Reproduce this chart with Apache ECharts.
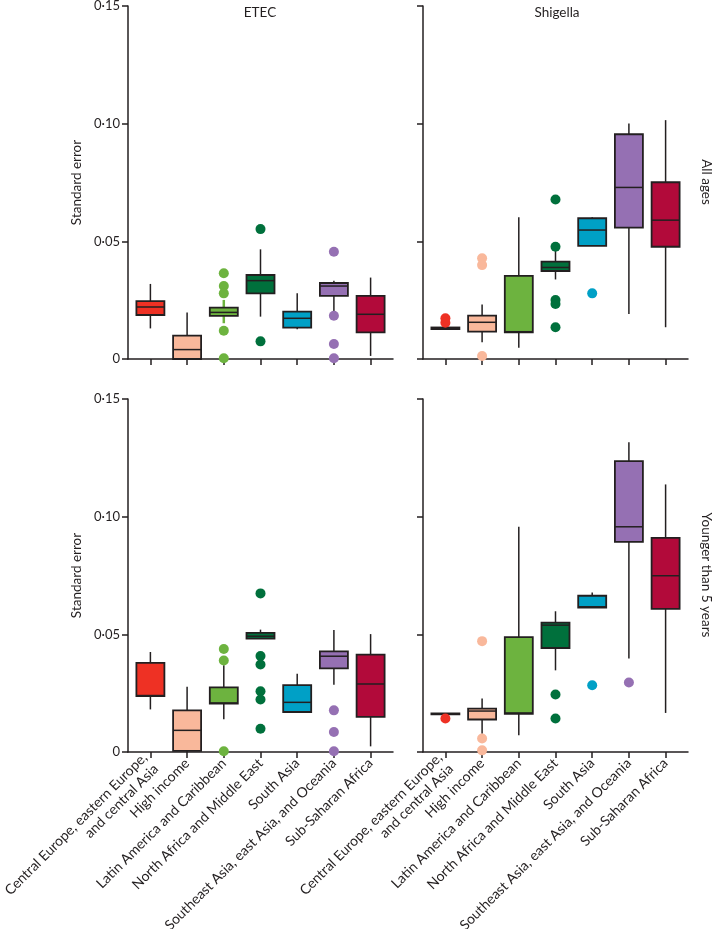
<!DOCTYPE html>
<html>
<head>
<meta charset="utf-8">
<script src="https://cdn.jsdelivr.net/npm/echarts@6/dist/echarts.min.js"></script>
<style>
html,body{margin:0;padding:0;background:#fff;}
#chart{width:715px;height:929px;}
</style>
</head>
<body>
<div id="chart"></div>
<script>
// ---- Data ----
const regions = [
  "Central Europe, eastern Europe,\nand central Asia",
  "High income",
  "Latin America and Caribbean",
  "North Africa and Middle East",
  "South Asia",
  "Southeast Asia, east Asia, and Oceania",
  "Sub-Saharan Africa"
];
const pathogens = ["ETEC", "Shigella"];
const ageGroups = ["All ages", "Younger than 5 years"];
const yTicks = [0, 0.05, 0.10, 0.15];

// [min, Q1, median, Q3, max]
const etecAll = [
  [0.0130, 0.0187, 0.0221, 0.0246, 0.0319],
  [0.0000, 0.0000, 0.0040, 0.0099, 0.0198],
  [0.0152, 0.0183, 0.0198, 0.0218, 0.0251],
  [0.0180, 0.0279, 0.0333, 0.0357, 0.0466],
  [0.0126, 0.0133, 0.0173, 0.0201, 0.0279],
  [0.0191, 0.0268, 0.0310, 0.0323, 0.0333],
  [0.0013, 0.0113, 0.0190, 0.0268, 0.0346]
];
const etecAllOut = [[2,0.0364],[2,0.0310],[2,0.0279],[2,0.0120],[2,0.0003],[3,0.0552],[3,0.0075],[5,0.0456],[5,0.0184],[5,0.0064],[5,0.0003]];

const shigAll = [
  [0.0127, 0.0127, 0.0130, 0.0134, 0.0134],
  [0.0071, 0.0116, 0.0156, 0.0184, 0.0232],
  [0.0048, 0.0113, 0.0116, 0.0353, 0.0602],
  [0.0338, 0.0374, 0.0389, 0.0414, 0.0463],
  [0.0481, 0.0481, 0.0548, 0.0598, 0.0602],
  [0.0191, 0.0558, 0.0729, 0.0955, 0.1001],
  [0.0135, 0.0477, 0.0590, 0.0751, 0.1015]
];
const shigAllOut = [[0,0.0173],[0,0.0154],[1,0.0428],[1,0.0399],[1,0.0013],[3,0.0678],[3,0.0477],[3,0.0251],[3,0.0234],[3,0.0135],[4,0.0279]];

const etecU5 = [
  [0.0181, 0.0238, 0.0240, 0.0379, 0.0425],
  [0.0000, 0.0005, 0.0092, 0.0177, 0.0277],
  [0.0139, 0.0206, 0.0208, 0.0275, 0.0369],
  [0.0482, 0.0482, 0.0492, 0.0506, 0.0520],
  [0.0167, 0.0170, 0.0211, 0.0284, 0.0333],
  [0.0286, 0.0355, 0.0407, 0.0428, 0.0518],
  [0.0024, 0.0149, 0.0289, 0.0414, 0.0501]
];
const etecU5Out = [[2,0.0438],[2,0.0389],[2,0.0003],[3,0.0674],[3,0.0408],[3,0.0372],[3,0.0258],[3,0.0223],[3,0.0099],[5,0.0177],[5,0.0085],[5,0.0003]];

const shigU5 = [
  [0.0160, 0.0160, 0.0162, 0.0164, 0.0164],
  [0.0078, 0.0138, 0.0174, 0.0184, 0.0227],
  [0.0071, 0.0162, 0.0166, 0.0488, 0.0957],
  [0.0347, 0.0442, 0.0539, 0.0550, 0.0598],
  [0.0614, 0.0614, 0.0617, 0.0664, 0.0678],
  [0.0397, 0.0893, 0.0957, 0.1236, 0.1316],
  [0.0166, 0.0608, 0.0749, 0.0910, 0.1137]
];
const shigU5Out = [[0,0.0142],[1,0.0471],[1,0.0057],[1,0.0007],[3,0.0244],[3,0.0142],[4,0.0284],[5,0.0295]];

// ---- Styles / layout ----
const colors = ['#ee3124', '#f9b89b', '#6db33f', '#00703c', '#00a0c6', '#9570b3', '#b20a3a'];
const ink = '#231f20';
const FONT = 'Lato';

const panels = [
  {box: etecAll, out: etecAllOut, axisX: 128, top: 6,   labels: false, yLabels: true,  colorWhisker: [2]},
  {box: shigAll, out: shigAllOut, axisX: 423, top: 6,   labels: false, yLabels: false, colorWhisker: []},
  {box: etecU5,  out: etecU5Out,  axisX: 128, top: 399, labels: true,  yLabels: true,  colorWhisker: []},
  {box: shigU5,  out: shigU5Out,  axisX: 423, top: 399, labels: true,  yLabels: false, colorWhisker: []}
];
const H = 353, FRAME_W = 265, BAND = 36.7, PAD = (FRAME_W - BAND * 7) / 2;

const grid = [], xAxis = [], yAxis = [], series = [];
const fmt = v => v === 0 ? '0' : v.toFixed(2).replace('.', '\u00b7');

panels.forEach((p, k) => {
  const gFrame = grid.length;
  grid.push({left: p.axisX, top: p.top, width: FRAME_W, height: H, containLabel: false, outerBoundsMode: 'none'});
  const gPlot = grid.length;
  grid.push({left: p.axisX + PAD, top: p.top, width: BAND * 7, height: H, containLabel: false, outerBoundsMode: 'none'});

  // frame axes
  xAxis.push({gridIndex: gFrame, type: 'value', min: 0, max: 1,
    axisLine: {show: true, onZero: false, lineStyle: {color: ink, width: 1.5}},
    axisTick: {show: false}, axisLabel: {show: false}, splitLine: {show: false}});
  yAxis.push({gridIndex: gFrame, type: 'value', min: yTicks[0], max: yTicks[yTicks.length - 1],
    interval: yTicks[1] - yTicks[0],
    axisLine: {show: true, lineStyle: {color: ink, width: 1.5}},
    axisTick: {show: true, length: 6, lineStyle: {color: ink, width: 1.5}},
    axisLabel: {show: p.yLabels, formatter: fmt, color: ink, fontFamily: FONT, fontSize: 13, margin: 8},
    splitLine: {show: false},
    name: p.yLabels ? 'Standard error' : '', nameLocation: 'middle', nameGap: 44,
    nameTextStyle: {color: ink, fontFamily: FONT, fontSize: 13.5}});

  // plot axes
  const xi = xAxis.length;
  xAxis.push({gridIndex: gPlot, type: 'category', data: regions, boundaryGap: true,
    axisLine: {show: false},
    axisTick: {show: true, alignWithLabel: true, length: 6, lineStyle: {color: ink, width: 1.5}},
    axisLabel: {show: p.labels, rotate: 45, interval: 0, color: ink, fontFamily: FONT, fontSize: 14,
      margin: 9, lineHeight: 16, align: 'right'},
    splitLine: {show: false}});
  const yi = yAxis.length;
  yAxis.push({gridIndex: gPlot, type: 'value', min: yTicks[0], max: yTicks[yTicks.length - 1],
    show: false, splitLine: {show: false}});

  const boxData = p.box.map((b, i) => [i].concat(b));
  series.push({
    type: 'custom', xAxisIndex: xi, yAxisIndex: yi, z: 2,
    encode: {x: 0, y: [1, 2, 3, 4, 5]},
    data: boxData,
    renderItem: function (params, api) {
      const i = api.value(0);
      const pMin = api.coord([i, api.value(1)]);
      const pQ1 = api.coord([i, api.value(2)]);
      const pMed = api.coord([i, api.value(3)]);
      const pQ3 = api.coord([i, api.value(4)]);
      const pMax = api.coord([i, api.value(5)]);
      const cx = pMed[0], half = 14;
      const colored = p.colorWhisker.indexOf(i) >= 0;
      const ws = {stroke: colored ? colors[i] : ink, lineWidth: colored ? 2.5 : 1.5};
      return {type: 'group', children: [
        {type: 'line', shape: {x1: cx, y1: pMin[1], x2: cx, y2: pQ1[1]}, style: ws},
        {type: 'line', shape: {x1: cx, y1: pQ3[1], x2: cx, y2: pMax[1]}, style: ws},
        {type: 'rect', shape: {x: cx - half, y: pQ3[1], width: half * 2, height: Math.max(pQ1[1] - pQ3[1], 0.5)},
          style: {fill: colors[i], stroke: ink, lineWidth: 1.8}},
        {type: 'line', shape: {x1: cx - half, y1: pMed[1], x2: cx + half, y2: pMed[1]},
          style: {stroke: ink, lineWidth: 1.5}}
      ]};
    }
  });
  series.push({
    type: 'scatter', xAxisIndex: xi, yAxisIndex: yi, z: 3,
    symbolSize: 10, data: p.out,
    itemStyle: {color: params => colors[params.data[0]], opacity: 1},
    emphasis: {disabled: true}
  });
});

const txt = {fill: ink, fontFamily: FONT, fontSize: 13.5};
const option = {
  animation: false,
  backgroundColor: '#fff',
  grid, xAxis, yAxis, series,
  graphic: [
    {type: 'text', x: 260, y: 13, style: Object.assign({text: pathogens[0], align: 'center', verticalAlign: 'middle'}, txt)},
    {type: 'text', x: 557, y: 13, style: Object.assign({text: pathogens[1], align: 'center', verticalAlign: 'middle'}, txt)},
    {type: 'text', x: 706, y: 182, rotation: -Math.PI / 2, style: Object.assign({text: ageGroups[0], align: 'center', verticalAlign: 'middle'}, txt)},
    {type: 'text', x: 706, y: 575, rotation: -Math.PI / 2, style: Object.assign({text: ageGroups[1], align: 'center', verticalAlign: 'middle'}, txt)}
  ]
};
const chart = echarts.init(document.getElementById('chart'), null, {renderer: 'canvas'});
chart.setOption(option);
</script>
</body>
</html>
